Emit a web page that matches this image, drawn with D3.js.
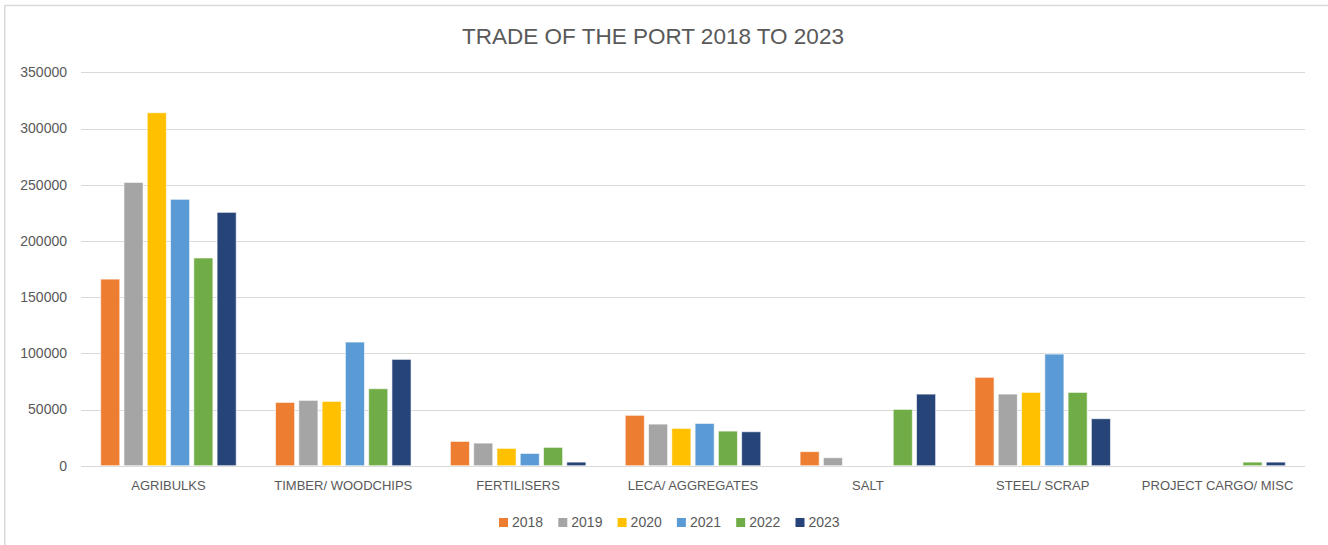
<!DOCTYPE html>
<html>
<head>
<meta charset="utf-8">
<script src="https://cdn.jsdelivr.net/npm/d3@7"></script>
<style>
  body { margin: 0; background: #fff; }
  svg text { font-family: "Liberation Sans", Arial, sans-serif; fill: #595959; }
</style>
</head>
<body>
<div id="chart"></div>
<script>
(function () {
    'use strict';

    var categories = ['AGRIBULKS', 'TIMBER/ WOODCHIPS', 'FERTILISERS', 'LECA/ AGGREGATES', 'SALT', 'STEEL/ SCRAP', 'PROJECT CARGO/ MISC'];
    var years = ['2018', '2019', '2020', '2021', '2022', '2023'];
    var colors = ['#ED7D31', '#A5A5A5', '#FFC000', '#5B9BD5', '#70AD47', '#264478'];

    var v2018 = [166000, 56300, 21600, 44800, 12500, 78600, 0];
    var v2019 = [252000, 58100, 20100, 37000, 7100, 63700, 0];
    var v2020 = [314000, 57200, 15400, 33200, 0, 65200, 0];
    var v2021 = [237000, 110000, 10900, 37600, 0, 99300, 0];
    var v2022 = [184800, 68500, 16300, 30800, 50100, 65200, 3200];
    var v2023 = [225400, 94600, 3200, 30200, 63700, 41800, 3200];
    var yTicks = [0, 50000, 100000, 150000, 200000, 250000, 300000, 350000];

    var series = [v2018, v2019, v2020, v2021, v2022, v2023];

    var width = 1328, height = 545;
    var plot = { left: 81, right: 1305, top: 72.3, bottom: 465.7 };

    var svg = d3.select('#chart').append('svg')
        .attr('width', width)
        .attr('height', height);

    // chart frame (only top and left edges are visible)
    svg.append('line')
        .attr('x1', 4).attr('x2', width)
        .attr('y1', 5.5).attr('y2', 5.5)
        .attr('stroke', '#d9d9d9').attr('stroke-width', 1.5);
    svg.append('line')
        .attr('x1', 4.75).attr('x2', 4.75)
        .attr('y1', 5).attr('y2', height)
        .attr('stroke', '#d9d9d9').attr('stroke-width', 1.5);

    svg.append('text')
        .attr('x', 653).attr('y', 44)
        .attr('text-anchor', 'middle')
        .style('font-size', '22.5px')
        .text('TRADE OF THE PORT 2018 TO 2023');

    var y = d3.scaleLinear().domain([0, 350000]).range([plot.bottom, plot.top]);

    var x0 = d3.scaleBand()
        .domain(categories)
        .range([plot.left, plot.right])
        .paddingInner(0.225)
        .paddingOuter(0.1125);

    var x1 = d3.scaleBand()
        .domain(years)
        .range([0, x0.bandwidth()])
        .paddingInner(0.18);

    // gridlines
    svg.append('g')
        .selectAll('line')
        .data(yTicks).enter()
        .append('line')
        .attr('x1', plot.left).attr('x2', plot.right)
        .attr('y1', function (d) { return Math.round(y(d)) + 0.5; })
        .attr('y2', function (d) { return Math.round(y(d)) + 0.5; })
        .attr('stroke', '#d9d9d9')
        .attr('stroke-width', 1);

    // y axis labels
    var yAxis = d3.axisLeft(y).tickValues(yTicks).tickSize(0).tickPadding(14)
        .tickFormat(function (d) { return d; });
    var gy = svg.append('g')
        .attr('transform', 'translate(' + plot.left + ',0)')
        .call(yAxis);
    gy.select('.domain').remove();
    gy.selectAll('text').style('font-size', '14px').attr('fill', '#595959')
        .style('font-family', '"Liberation Sans", Arial, sans-serif');

    // bars
    var groups = svg.append('g')
        .selectAll('g')
        .data(categories).enter()
        .append('g')
        .attr('transform', function (d) { return 'translate(' + x0(d) + ',0)'; });

    groups.selectAll('rect')
        .data(function (d, i) {
            return years.map(function (yr, j) { return { year: yr, idx: j, value: series[j][i] }; });
        }).enter()
        .filter(function (d) { return d.value > 0; })
        .append('rect')
        .attr('x', function (d) { return x1(d.year); })
        .attr('width', x1.bandwidth())
        .attr('y', function (d) { return y(d.value); })
        .attr('height', function (d) { return y(0) - y(d.value); })
        .attr('fill', function (d) { return colors[d.idx]; })
        .attr('stroke', '#fff')
        .attr('stroke-opacity', 0.6)
        .attr('stroke-width', 1);

    // x axis labels
    var xAxis = d3.axisBottom(x0).tickSize(0).tickPadding(15);
    var gx = svg.append('g')
        .attr('transform', 'translate(0,' + plot.bottom + ')')
        .call(xAxis);
    gx.select('.domain').remove();
    gx.selectAll('text').style('font-size', '13px').attr('fill', '#595959')
        .style('font-family', '"Liberation Sans", Arial, sans-serif');

    // legend
    var legend = svg.append('g')
        .selectAll('g')
        .data(years).enter()
        .append('g')
        .attr('transform', function (d, i) { return 'translate(' + (499 + i * 59.3) + ',518)'; });
    legend.append('rect')
        .attr('width', 9).attr('height', 9)
        .attr('fill', function (d, i) { return colors[i]; });
    legend.append('text')
        .attr('x', 13).attr('y', 9)
        .style('font-size', '14px')
        .text(function (d) { return d; });
})();
</script>
</body>
</html>
